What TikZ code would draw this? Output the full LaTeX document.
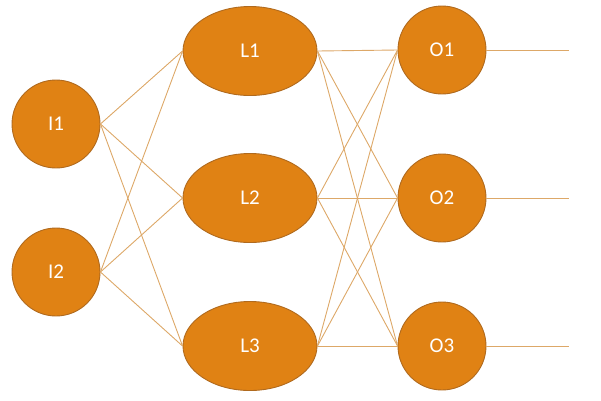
\documentclass[tikz,border=0pt]{standalone}
\usepackage{fontspec}
\setmainfont{Carlito}
\usetikzlibrary{shapes.geometric}
\definecolor{nodefill}{HTML}{E08214}
\definecolor{nodeline}{HTML}{B06A1E}
\definecolor{edgecol}{HTML}{DDA868}
\begin{document}
\begin{tikzpicture}[x=1pt, y=-1pt,
        neuron/.style={circle, draw=nodeline, fill=nodefill, line width=0.9pt, minimum size=88pt, inner sep=0pt, text=white, font=\fontsize{21}{25}\selectfont},
        hidden/.style={neuron, ellipse, minimum width=134pt, minimum height=89pt},
        edge/.style={draw=edgecol, line width=0.9pt}]
        \useasboundingbox (0,0) rectangle (601,400);
        \node[neuron] (i1) at (56,124) {I1};
        \node[neuron] (i2) at (56,272) {I2};
        \node[hidden] (l1) at (250,51) {L1};
        \node[hidden] (l2) at (250,198) {L2};
        \node[hidden] (l3) at (250,346) {L3};
        \node[neuron] (o1) at (442,50) {O1};
        \node[neuron] (o2) at (442,198) {O2};
        \node[neuron] (o3) at (442,346) {O3};
        \coordinate (y1) at (569,50);
        \coordinate (y2) at (569,198);
        \coordinate (y3) at (569,346);
        \foreach \i in {1,2}
            \foreach \l in {1,2,3}
                \draw[edge] (i\i.east) -- (l\l.west);
        \foreach \l in {1,2,3}
            \foreach \o in {1,2,3}
                \draw[edge] (l\l.east) -- (o\o.west);
        \foreach \o in {1,2,3}
            \draw[edge] (o\o.east) -- (y\o);
    \end{tikzpicture}
\end{document}
